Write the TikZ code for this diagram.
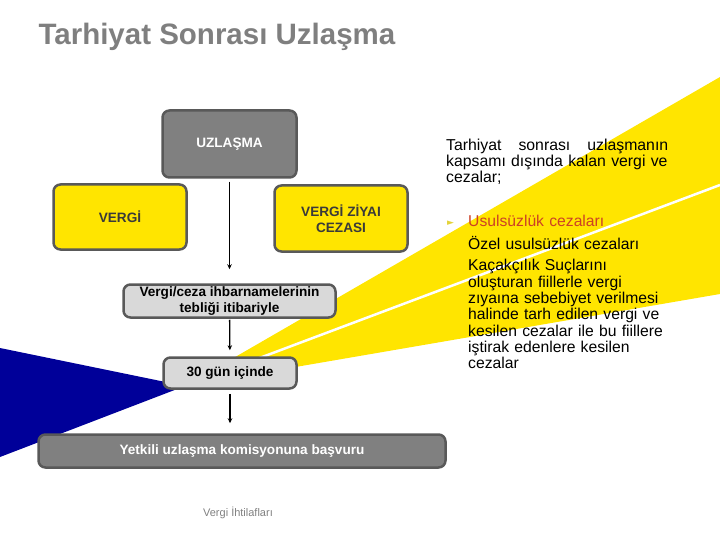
\documentclass[tikz,border=0pt]{standalone}
\usepackage{fontspec}
\setmainfont{Liberation Sans}
\newfontfamily\symfont{DejaVu Sans}
\usetikzlibrary{arrows.meta}

\definecolor{sariRenk}{HTML}{FFE500}
\definecolor{laciRenk}{HTML}{000099}
\definecolor{koyuGri}{HTML}{808080}
\definecolor{acikGri}{HTML}{D9D9D9}
\definecolor{kenarGri}{HTML}{595959}
\definecolor{baslikGri}{HTML}{7F7F7F}
\definecolor{yaziGri}{HTML}{3A3A3A}
\definecolor{kirmiziRenk}{HTML}{CC4125}
\definecolor{madde}{HTML}{E3D33A}

\begin{document}
\begin{tikzpicture}[x=1pt,y=-1pt,
    kutu/.style={draw=kenarGri, line width=2.5pt, rounded corners=7pt, align=center,
        inner sep=2pt, font=\bfseries\fontsize{13.6}{15.5}\selectfont},
    griKutu/.style={kutu, fill=koyuGri, text=white},
    sariKutu/.style={kutu, fill=sariRenk, text=yaziGri},
    acikKutu/.style={kutu, fill=acikGri, text=black},
    ok/.style={line width=1.3pt, -{Stealth[length=5pt,width=4.5pt]}}]
    \useasboundingbox (0,0) rectangle (720,540);

    \fill[sariRenk] (185,386) -- (720,77) -- (720,294) -- cycle;
    \draw[white, line width=2.5pt] (185,386) -- (720,185);
    \fill[laciRenk] (185,386) -- (0,348) -- (0,457) -- cycle;

    \node[anchor=base west, text=baslikGri, font=\bfseries\fontsize{29.5}{32}\selectfont]
        (baslik) at (35,45) {Tarhiyat Sonrası Uzlaşma};

    \node[griKutu, minimum width=134pt, minimum height=67pt] (uzlasma) at (229.5,144) {UZLAŞMA};
    \node[sariKutu, minimum width=133pt, minimum height=65pt] (vergi) at (120,217) {VERGİ};
    \node[sariKutu, minimum width=133pt, minimum height=66pt] (ziya) at (341,218.5) {VERGİ ZİYAI\\CEZASI};
    \node[acikKutu, minimum width=212pt, minimum height=33pt] (teblig) at (229.5,301)
        {Vergi/ceza ihbarnamelerinin\\tebliği itibariyle};
    \node[acikKutu, minimum width=133pt, minimum height=31pt] (gun) at (230,373) {30 gün içinde};
    \node[griKutu, minimum width=407pt, minimum height=33pt] (basvuru) at (242,451)
        {Yetkili uzlaşma komisyonuna başvuru};

    \draw[ok, shorten <=3pt, shorten >=14pt] (uzlasma) -- (teblig);
    \draw[ok, shorten <=1pt, shorten >=6pt] (teblig) -- (gun);
    \draw[ok, shorten <=4pt, shorten >=10pt] (gun.south) -- (gun.south |- basvuru.north);

    \node[anchor=base, text=koyuGri, font=\fontsize{11}{13}\selectfont] (dipnot) at (238,516)
        {Vergi İhtilafları};

    \node[anchor=base west, inner sep=0pt, text width=240pt, align=left,
        font=\fontsize{15.8}{16.2}\selectfont] (kapsam) at (446,150.5)
        {\makebox[222pt][l]{Tarhiyat\hfill sonrası\hfill uzlaşmanın}\\
         kapsamı dışında kalan vergi ve\\
         cezalar;};
    \node[anchor=base west, inner sep=0pt, text=madde, font=\symfont\fontsize{9}{10}\selectfont]
        (imlec) at (447,225.5) {►};
    \node[anchor=base west, inner sep=0pt, text width=240pt, align=left,
        font=\fontsize{15.7}{16.3}\selectfont] (liste) at (468,226.7)
        {\textcolor{kirmiziRenk}{Usulsüzlük cezaları}\\[6.5pt]
         Özel usulsüzlük cezaları\\[5.2pt]
         Kaçakçılık Suçlarını\\
         oluşturan fiillerle vergi\\
         zıyaına sebebiyet verilmesi\\
         halinde tarh edilen vergi ve\\
         kesilen cezalar ile bu fiillere\\
         iştirak edenlere kesilen\\
         cezalar};
\end{tikzpicture}
\end{document}
